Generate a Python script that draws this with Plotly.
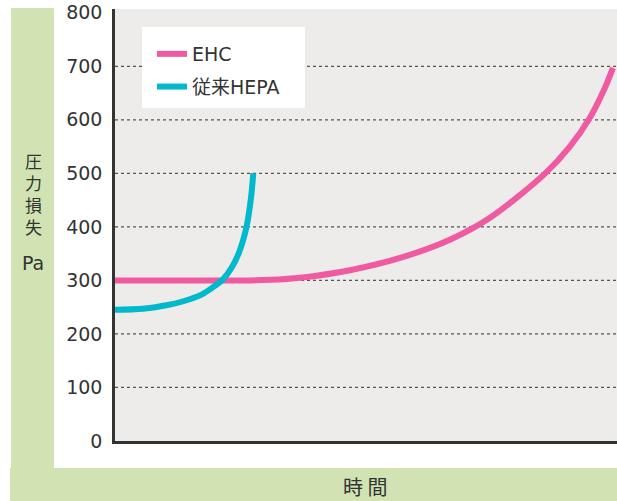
import plotly.graph_objects as go

# Data (time in arbitrary units 0-100, pressure loss in Pa)
ehc_time = [0, 26.9, 30.9, 36.9, 46.8, 56.8, 66.7, 74.7, 85.7, 90.6, 94.6, 97.6, 99.2]
ehc_pa = [300, 300, 301, 305, 319, 342, 376, 417, 500, 550, 604, 660, 697]

hepa_time = [0, 5.58, 9.96, 13.94, 17.53, 19.92, 21.51, 23.31, 24.70, 26.20, 27.09, 27.55]
hepa_pa = [245, 247, 253, 262, 275, 290, 302, 325, 352, 400, 454, 500]

y_ticks = [0, 100, 200, 300, 400, 500, 600, 700, 800]
grid_vals = [100, 200, 300, 400, 500, 600, 700]

FONT = "DejaVu Sans, Noto Sans CJK JP"
CJK = "Noto Sans CJK JP"
GREEN = "#d1e3b2"
TXT = "#333333"

fig = go.Figure()
fig.add_trace(go.Scatter(x=ehc_time, y=ehc_pa, mode="lines", name="EHC",
                         line=dict(color="#ef5aa1", width=6, shape="spline", smoothing=0.9),
                         legendgroup="a"))
fig.add_trace(go.Scatter(x=hepa_time, y=hepa_pa, mode="lines", name="従来HEPA",
                         line=dict(color="#00b9cd", width=6, shape="spline", smoothing=0.9),
                         legendgroup="b"))

shapes = []
# green panels
shapes.append(dict(type="rect", xref="paper", yref="paper", x0=-0.2072, x1=-0.1215,
                   y0=-0.0625, y1=1.0023, fillcolor=GREEN, line=dict(width=0), layer="below"))
shapes.append(dict(type="rect", xref="paper", yref="paper", x0=-0.2092, x1=1.0,
                   y0=-0.14, y1=-0.0625, fillcolor=GREEN, line=dict(width=0), layer="below"))
for g in grid_vals:
    shapes.append(dict(type="line", xref="paper", yref="y", x0=0, x1=1, y0=g, y1=g,
                       line=dict(color="#555555", width=1.2, dash="3px,3px"), layer="below"))
# legend box
shapes.append(dict(type="rect", xref="paper", yref="paper", x0=0.0538, x1=0.3785,
                   y0=0.7708, y1=0.9583, fillcolor="white", line=dict(width=0), layer="below"))

fig.update_layout(
    width=617, height=501,
    margin=dict(l=115, r=0, t=9, b=60),
    paper_bgcolor="white",
    plot_bgcolor="#edecea",
    font=dict(family=FONT, color=TXT, size=18),
    shapes=shapes,
    showlegend=True,
    legend=dict(x=0.0737, y=0.9398, xanchor="left", yanchor="top",
                bgcolor="rgba(0,0,0,0)", borderwidth=0, traceorder="grouped",
                tracegroupgap=5, font=dict(size=19, color=TXT, family=FONT)),
    xaxis=dict(range=[0, 100], showgrid=False, zeroline=False, showticklabels=False,
               showline=True, linecolor="#333333", linewidth=2.5, ticks=""),
    yaxis=dict(range=[0, 807], tickvals=y_ticks, ticktext=[str(v) for v in y_ticks],
               showgrid=False, zeroline=False, showline=True, linecolor="#333333",
               linewidth=2.5, ticks="", ticklabelstandoff=6, ticklabeloverflow="allow",
               tickfont=dict(size=19, color=TXT, family=FONT)),
    annotations=[
        dict(text="圧<br>力<br>損<br>失", xref="paper", yref="paper",
             x=(33 - 115) / 502, y=(441 - 193.5) / 432, showarrow=False,
             font=dict(size=17, color=TXT, family=CJK), xanchor="center", yanchor="middle"),
        dict(text="Pa", xref="paper", yref="paper",
             x=(33 - 115) / 502, y=(441 - 263) / 432, showarrow=False,
             font=dict(size=19, color=TXT, family=FONT), xanchor="center", yanchor="middle"),
        dict(text="時 間", xref="paper", yref="paper",
             x=(365 - 115) / 502, y=(441 - 487) / 432, showarrow=False,
             font=dict(size=20, color=TXT, family=CJK), xanchor="center", yanchor="middle"),
    ],
)

fig.write_html("out.html", config={"displayModeBar": False},
               post_script="document.body.style.margin='0';")
